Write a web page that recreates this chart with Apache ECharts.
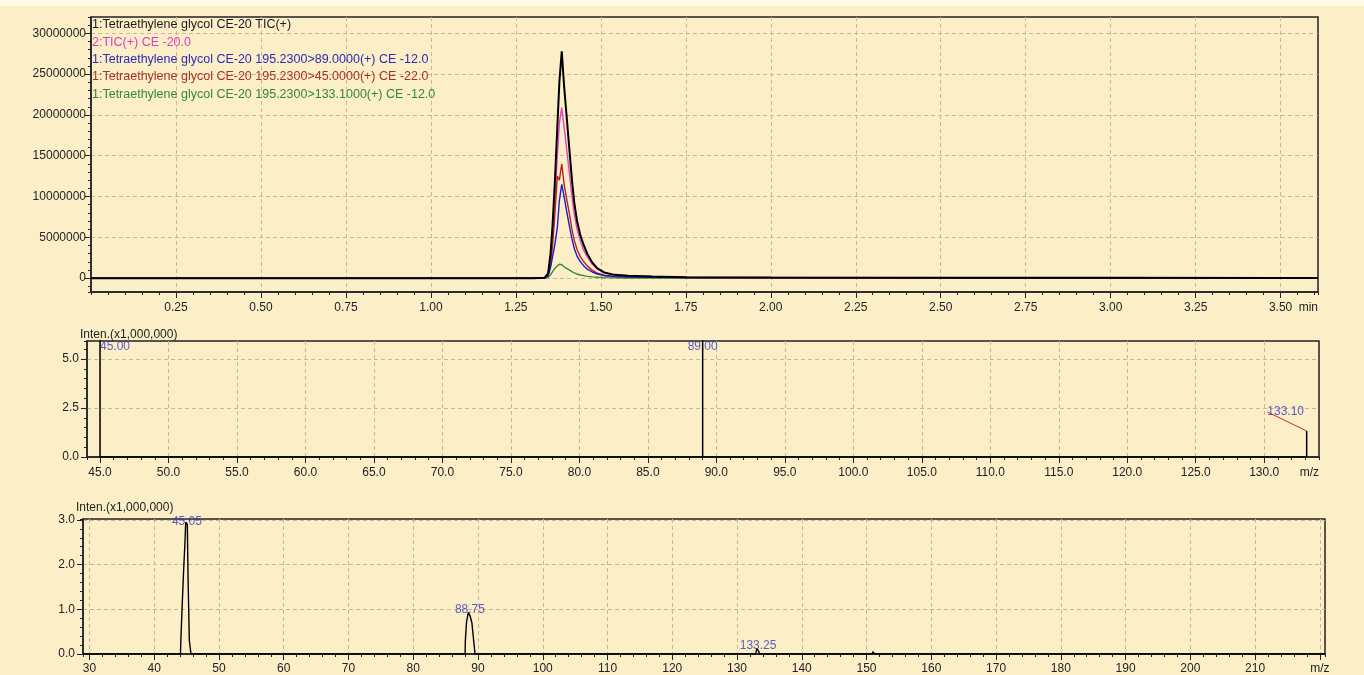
<!DOCTYPE html>
<html><head><meta charset="utf-8">
<script src="https://cdn.jsdelivr.net/npm/echarts@6/dist/echarts.min.js"></script>
<style>
html,body{margin:0;padding:0;}
body{background:linear-gradient(to bottom,#fff9e8 0,#fff9e8 6px,#fcefc8 6px,#fcefc8 100%);}
#c{width:1364px;height:675px;}
</style></head><body><div id="c"></div>
<script>
// ---------- Panel 1: chromatogram (retention time, min) ----------
const rtTimes = [0, 0.5, 1.0, 1.25, 1.3, 1.335, 1.345, 1.352, 1.358, 1.365, 1.372, 1.378, 1.385, 1.392, 1.399, 1.407, 1.415, 1.422, 1.43, 1.44, 1.45, 1.46, 1.475, 1.49, 1.51, 1.54, 1.58, 1.65, 1.75, 2.0, 2.5, 3.0, 3.5, 3.61];
const ticTotal1 = [0,0,0,0,0,0.05e6,0.6e6,3.0e6,6.5e6,12.0e6,18.5e6,24.0e6,27.8e6,23.5e6,20.0e6,16.0e6,12.0e6,9.2e6,7.0e6,5.2e6,4.0e6,3.0e6,1.9e6,1.2e6,0.7e6,0.4e6,0.3e6,0.2e6,0.12e6,0.08e6,0.05e6,0.05e6,0.03e6,0.03e6];
const ticTotal2 = [0,0,0,0,0.05e6,0.05e6,0.5e6,2.4e6,5.2e6,9.5e6,15.0e6,19.0e6,20.9e6,18.5e6,16.0e6,13.0e6,10.0e6,7.8e6,6.0e6,4.5e6,3.4e6,2.6e6,1.7e6,1.1e6,0.65e6,0.4e6,0.3e6,0.2e6,0.12e6,0.08e6,0.05e6,0.05e6,0.03e6,0.03e6];
const mrm89 = [0,0,0,0,0,0.03e6,0.3e6,1.3e6,2.6e6,4.2e6,6.2e6,9.5e6,11.5e6,10.0e6,8.3e6,6.5e6,4.8e6,3.6e6,2.7e6,2.0e6,1.5e6,1.1e6,0.75e6,0.5e6,0.3e6,0.18e6,0.12e6,0.1e6,0.08e6,0.06e6,0.03e6,0.02e6,0.02e6,0.02e6];
const mrm45 = [0,0,0,0,0,0.03e6,0.3e6,1.6e6,4.0e6,8.0e6,12.5e6,12.0e6,14.0e6,11.5e6,9.8e6,8.0e6,6.0e6,4.6e6,3.5e6,2.6e6,2.0e6,1.5e6,0.95e6,0.6e6,0.35e6,0.2e6,0.15e6,0.1e6,0.06e6,0.04e6,0.02e6,0.02e6,0.01e6,0.01e6];
const mrm133 = [0,0,0,0,0,0,0.1e6,0.4e6,0.8e6,1.2e6,1.5e6,1.7e6,1.65e6,1.4e6,1.2e6,1.0e6,0.8e6,0.65e6,0.5e6,0.38e6,0.3e6,0.22e6,0.15e6,0.1e6,0.06e6,0.03e6,0.02e6,0.01e6,0,0,0,0,0,0];
const traceNames = [
  '1:Tetraethylene glycol CE-20 TIC(+)',
  '2:TIC(+) CE -20.0',
  '1:Tetraethylene glycol CE-20 195.2300>89.0000(+) CE -12.0',
  '1:Tetraethylene glycol CE-20 195.2300>45.0000(+) CE -22.0',
  '1:Tetraethylene glycol CE-20 195.2300>133.1000(+) CE -12.0'
];
const traceValues = [ticTotal1, ticTotal2, mrm89, mrm45, mrm133];

// ---------- Panel 2: MRM spectrum (m/z, Inten x1,000,000) ----------
const mrmMz = [45.0, 89.0, 133.1];
const mrmInten = [10.9, 9.0, 1.33];

// ---------- Panel 3: scan spectrum (m/z, Inten x1,000,000) ----------
const scanMz  = [29.0, 44.05, 44.16, 44.41, 44.67, 44.8, 44.93, 45.05, 45.17, 45.29, 45.55, 45.81, 62.3, 62.45, 62.6, 88.0, 88.09, 88.37, 88.64, 88.92, 89.19, 89.47, 89.62, 132.9, 133.02, 133.15, 133.28, 133.41, 133.55, 150.9, 151.05, 151.2, 151.35, 194.9, 195.05, 195.2, 220.8];
const scanInt = [0, 0, 0.28, 0.97, 1.88, 2.46, 2.95, 2.97, 2.9, 1.66, 0.3, 0, 0, 0.02, 0, 0, 0.3, 0.72, 0.93, 0.85, 0.7, 0.3, 0, 0, 0.06, 0.12, 0.13, 0.06, 0, 0, 0.05, 0.06, 0, 0, 0.01, 0, 0];
const scanPeakMz = [45.05, 88.75, 133.25];
const scanPeakInt = [2.97, 0.93, 0.13];

// ---------- styling / layout ----------
const FONT = "'Liberation Sans', Arial, sans-serif";
const INK = '#222222';
const GRIDC = '#c6b996';
const BG = '#fcefc8';
const LABEL_BLUE = '#3434c4';
const traceColors = ['#000000', '#e83ec8', '#1c1ccc', '#b3231f', '#2f8f2f'];
const traceZ = [9, 3, 6, 5, 4];
const legendColors = ['#1a1a1a', '#de3cc0', '#2b2bb3', '#a8322a', '#338833'];

const R = {
  top:  {xMin:0, xMax:3.61, xStep:0.25, xMinor:0.05, yMin:-1.7e6, yMax:32e6, yStep:5e6, yMinor:1e6},
  mid:  {xMin:44.05, xMax:134.0, xStep:5, xMinor:1, yMin:0, yMax:5.92, yStep:2.5, yMinor:0.5},
  bot:  {xMin:29.0, xMax:220.8, xStep:10, xMinor:2, yMin:0, yMax:3.02, yStep:1, yMinor:0.2}
};

function majorX(g, r, fmt, margin, extra) {
  return Object.assign({
    type:'value', gridIndex:g, position:'bottom', min:r.xMin, max:r.xMax, minInterval:r.xStep, maxInterval:r.xStep,
    axisLine:{show:true, onZero:false, lineStyle:{color:INK, width:1.5}},
    axisTick:{show:true, inside:false, length:6, lineStyle:{color:INK, width:1}},
    axisLabel:{show:true, margin:margin, color:INK, fontSize:12, fontFamily:FONT, formatter:fmt, showMinLabel:false, showMaxLabel:false},
    splitLine:{show:true, showMinLine:false, showMaxLine:false, lineStyle:{color:GRIDC, type:[4,3], width:1}}
  }, extra || {});
}
function minorX(g, r) {
  return {type:'value', gridIndex:g, position:'bottom', min:r.xMin, max:r.xMax, minInterval:r.xMinor, maxInterval:r.xMinor,
    axisLine:{show:false, onZero:false}, axisTick:{show:true, length:3, lineStyle:{color:INK, width:1}},
    axisLabel:{show:false}, splitLine:{show:false}};
}
function majorY(g, r, fmt, showMin, margin, extra) {
  return Object.assign({
    type:'value', gridIndex:g, position:'left', min:r.yMin, max:r.yMax, minInterval:r.yStep, maxInterval:r.yStep,
    axisLine:{show:true, onZero:false, lineStyle:{color:INK, width:1.5}},
    axisTick:{show:true, inside:false, length:6, lineStyle:{color:INK, width:1}},
    axisLabel:{show:true, margin:margin, color:INK, fontSize:12, fontFamily:FONT, formatter:fmt, showMinLabel:showMin, showMaxLabel:false},
    splitLine:{show:true, showMinLine:false, showMaxLine:false, lineStyle:{color:GRIDC, type:[4,3], width:1}}
  }, extra || {});
}
function minorY(g, r) {
  return {type:'value', gridIndex:g, position:'left', min:r.yMin, max:r.yMax, minInterval:r.yMinor, maxInterval:r.yMinor,
    axisLine:{show:false, onZero:false}, axisTick:{show:true, length:3, lineStyle:{color:INK, width:1}},
    axisLabel:{show:false}, splitLine:{show:false}};
}
const intenName = {
  name:'Inten.(x1,000,000)', nameLocation:'end', nameGap:0,
  nameTextStyle:{color:INK, fontSize:12, fontFamily:FONT, align:'left', verticalAlign:'bottom', padding:[0,0,0,-7]}
};
function endName(txt, padTop) {
  return {name:txt, nameLocation:'end', nameGap:0,
    nameTextStyle:{color:INK, fontSize:12, fontFamily:FONT, align:'right', verticalAlign:'top', padding:[padTop,0,0,0]}};
}

// series
const series = [];
traceNames.forEach((nm, i) => {
  series.push({
    name:nm, type:'line', xAxisIndex:0, yAxisIndex:0, showSymbol:false, silent:true,
    data: rtTimes.map((t, k) => [t, traceValues[i][k]]),
    lineStyle:{color:traceColors[i], width: i === 0 ? 2 : 1.4},
    itemStyle:{color:traceColors[i]}, z: traceZ[i]
  });
});
// middle sticks
const stickData = [];
mrmMz.forEach((mz, i) => { stickData.push([mz, 0], [mz, mrmInten[i]], [mz, 0]); });
series.push({type:'line', xAxisIndex:2, yAxisIndex:2, showSymbol:false, silent:true, clip:true,
  data:stickData, lineStyle:{color:'#000', width:1.5}});
series.push({type:'scatter', xAxisIndex:2, yAxisIndex:2, symbolSize:0, silent:true, clip:false,
  data: mrmMz.map((mz, i) => {
    const v = mrmInten[i];
    const clipped = v > R.mid.yMax;
    return clipped
      ? {value:[mz, R.mid.yMax], label:{position:'bottom', distance:0, align: mz - R.mid.xMin < 3 ? 'left' : 'center'}}
      : {value:[mz, v], label:{position:'top', distance:4}, labelLine:{show:true, lineStyle:{color:'#d02828', width:1}}};
  }),
  label:{show:true, color:LABEL_BLUE, fontSize:12, fontFamily:FONT, formatter: p => p.value[0].toFixed(2)},
  labelLayout: p => (mrmInten[p.dataIndex] > R.mid.yMax ? {} : {dx:-21, dy:-9})
});
// bottom profile
series.push({type:'line', xAxisIndex:4, yAxisIndex:4, showSymbol:false, silent:true, step:'middle',
  data: scanMz.map((m, i) => [m, scanInt[i]]), lineStyle:{color:'#000', width:1.4}});
series.push({type:'scatter', xAxisIndex:4, yAxisIndex:4, symbolSize:0, silent:true, clip:false,
  data: scanPeakMz.map((m, i) => {
    const v = scanPeakInt[i];
    return v / R.bot.yMax > 0.9 ? {value:[m, v], label:{position:'inside'}} : {value:[m, v], label:{position:'top', distance:-3}};
  }),
  label:{show:true, color:LABEL_BLUE, fontSize:12, fontFamily:FONT, formatter: p => p.value[0].toFixed(2)}
});

const option = {
  backgroundColor:'transparent',
  animation:false,
  textStyle:{fontFamily:FONT},
  grid:[
    {left:91, top:17, width:1227, height:275, show:true, backgroundColor:BG, borderColor:INK, borderWidth:1.5},
    {left:87, top:341, width:1232, height:116, show:true, backgroundColor:BG, borderColor:INK, borderWidth:1.5},
    {left:83, top:519, width:1242, height:139, show:true, backgroundColor:BG, borderColor:INK, borderWidth:1.5}
  ],
  legend:{
    orient:'vertical', left:87, top:18, padding:0, itemWidth:0, itemHeight:0, itemGap:3.3,
    selectedMode:false, icon:'rect',
    textStyle:{fontSize:12.5, fontFamily:FONT, lineHeight:14, padding:0},
    data: traceNames.map((nm, i) => ({name:nm, textStyle:{color:legendColors[i]}}))
  },
  xAxis:[
    majorX(0, R.top, v => v.toFixed(2), 10, endName('min', 10)),
    minorX(0, R.top),
    majorX(1, R.mid, v => v.toFixed(1), 10, endName('m/z', 10)),
    minorX(1, R.mid),
    majorX(2, R.bot, v => (Math.abs(v - 220) < 1e-6 ? 'm/z' : String(Math.round(v))), 9),
    minorX(2, R.bot)
  ],
  yAxis:[
    majorY(0, R.top, v => String(Math.round(v)), false, 5),
    minorY(0, R.top),
    majorY(1, R.mid, v => v.toFixed(1), true, 8, intenName),
    minorY(1, R.mid),
    majorY(2, R.bot, v => v.toFixed(1), true, 8, Object.assign({}, intenName, {nameGap:-2})),
    minorY(2, R.bot)
  ],
  series: series
};
const chart = echarts.init(document.getElementById('c'));
chart.setOption(option);
</script>
</body></html>
